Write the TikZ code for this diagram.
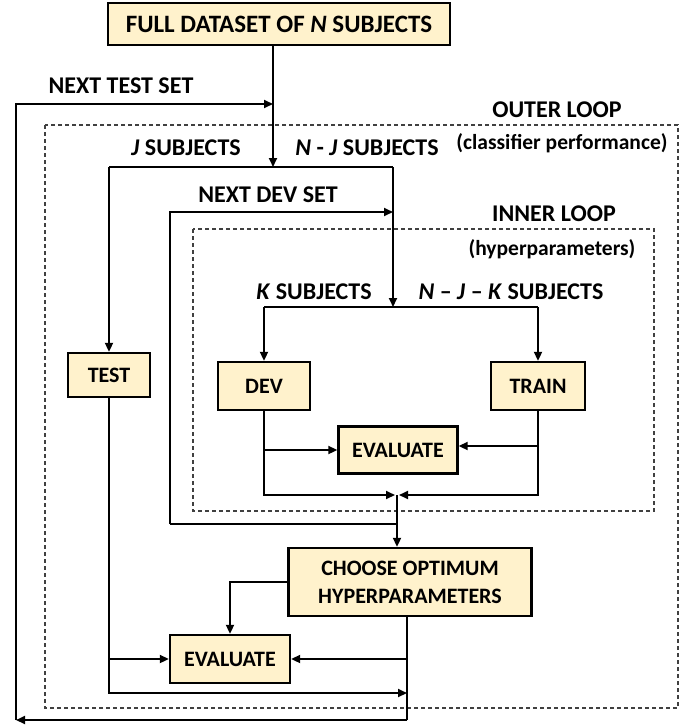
\documentclass[tikz,border=0pt]{standalone}
\usepackage{fontspec}
\setmainfont{Carlito}
\usetikzlibrary{arrows.meta}
\definecolor{boxfill}{HTML}{FFF2CC}
\begin{document}
\begin{tikzpicture}[x=1pt,y=-1pt,
  box/.style={draw=black, fill=boxfill, line width=2.4pt, inner sep=0pt, align=center, font=\fontsize{22}{28}\selectfont\bfseries},
  lbl/.style={inner sep=0pt, font=\fontsize{24}{26}\selectfont\bfseries},
  info/.style={inner sep=0pt, font=\fontsize{21.5}{24}\selectfont\bfseries},
  wire/.style={line width=2pt},
  arr/.style={wire, -{Triangle[length=9pt,width=8pt]}},
  loopbox/.style={draw=black!75, line width=1.2pt, dash pattern=on 4pt off 3pt}]
\useasboundingbox (0,0) rectangle (694,725);
\draw [loopbox] (45,125) rectangle (678,708);
\draw [loopbox] (193,229) rectangle (654,511);
\node [box, minimum width=342pt, minimum height=42pt, font=\fontsize{25}{28}\selectfont\bfseries] (full) at (279,24) {FULL DATASET OF \textit{N} SUBJECTS};
\node [box, minimum width=82pt, minimum height=44pt] (test) at (109,375) {TEST};
\node [box, minimum width=92pt, minimum height=48pt] (dev) at (264,386) {DEV};
\node [box, minimum width=94pt, minimum height=48pt] (train) at (538,386) {TRAIN};
\node [box, minimum width=119pt, minimum height=47pt] (evalin) at (398,450) {EVALUATE};
\node [box, minimum width=243pt, minimum height=68pt] (choose) at (410,582) {CHOOSE OPTIMUM\\HYPERPARAMETERS};
\node [box, minimum width=120pt, minimum height=48pt] (evalout) at (230,659) {EVALUATE};
\node [lbl] (nexttest) at (121,86) {NEXT TEST SET};
\node [lbl] (outer) at (557,110) {OUTER LOOP};
\node [info] (outerinfo) at (562,143) {(classifier performance)};
\node [lbl] (jsub) at (186,148) {\textit{J} SUBJECTS};
\node [lbl] (njsub) at (367,148) {\textit{N} - \textit{J} SUBJECTS};
\node [lbl] (nextdev) at (268,195) {NEXT DEV SET};
\node [lbl] (inner) at (554,214) {INNER LOOP};
\node [info] (innerinfo) at (552,249) {(hyperparameters)};
\node [lbl] (ksub) at (314,292) {\textit{K} SUBJECTS};
\node [lbl] (njksub) at (511,292) {\textit{N} – \textit{J} – \textit{K} SUBJECTS};
\coordinate (jsplit) at (273,167);
\coordinate (jleft) at (109,167);
\coordinate (jright) at (393,167);
\coordinate (ksplit) at (393,307);
\coordinate (testret) at (16,720);
\coordinate (testin) at (273,104);
\coordinate (devret) at (170,524);
\coordinate (devin) at (393,212);
\coordinate (merge) at (397,495);
\coordinate (trainbr) at (538,446);
\coordinate (outret) at (407,720);
\coordinate (testbot) at (109,693);
\draw [arr] (jsplit |- full.south) -- (jsplit);
\draw [wire] (jleft) -- (jright);
\draw [arr] (jleft) -- (test.north);
\draw [arr] (jright) -- (ksplit);
\draw [wire] (dev.north |- ksplit) -- (train.north |- ksplit);
\draw [arr] (dev.north |- ksplit) -- (dev.north);
\draw [arr] (train.north |- ksplit) -- (train.north);
\draw [arr] (testret) |- (testin);
\draw [arr] (devret) |- (devin);
\draw [wire] (devret) -- (devret -| merge);
\draw [arr] (dev.south) |- ([xshift=-2pt]merge);
\draw [arr] (dev.south |- evalin.west) -- (evalin.west);
\draw [arr] (train.south) |- ([xshift=2pt]merge);
\draw [arr] (trainbr) -- (trainbr -| evalin.east);
\draw [arr] (merge) -- (merge |- choose.north);
\draw [arr] (choose.west) -| (evalout.north);
\draw [wire] (outret |- choose.south) -- (outret);
\draw [arr] (outret) -- (testret);
\draw [arr] (outret |- evalout.east) -- (evalout.east);
\draw [arr] (test.south) |- (outret |- testbot);
\draw [arr] (test.south |- evalout.west) -- (evalout.west);
\end{tikzpicture}
\end{document}
